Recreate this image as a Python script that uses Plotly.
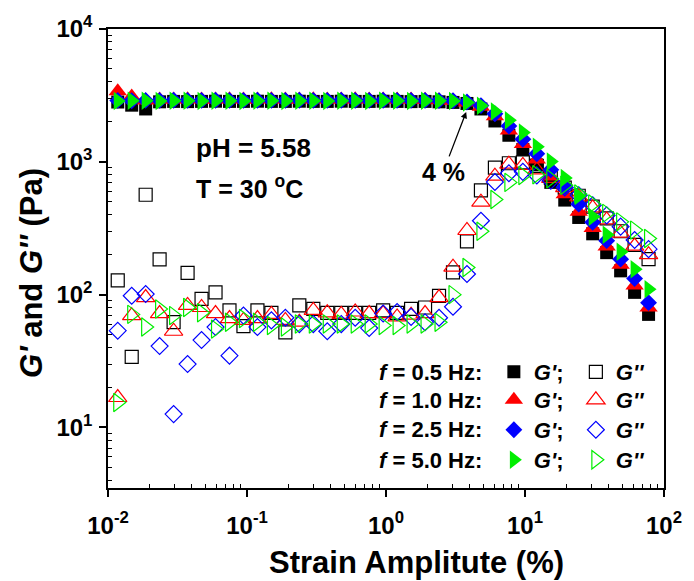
import plotly.graph_objects as go

# ---------------- data ----------------
strain = [0.01175, 0.01481, 0.01866, 0.02351, 0.02965, 0.03737, 0.04710, 0.05937,
          0.07482, 0.09430, 0.1189, 0.1498, 0.1888, 0.2379, 0.2999, 0.3780, 0.4764,
          0.6005, 0.7568, 0.9539, 1.202, 1.515, 1.910, 2.407, 3.034, 3.824, 4.819,
          6.074, 7.656, 9.650, 12.16, 15.33, 19.32, 24.35, 30.69, 38.69, 48.75,
          61.45, 77.45]

# G' (storage modulus, Pa)
gp_05 = [2820, 2670, 2500, 2830, 2850, 2840, 2850, 2860, 2850, 2850, 2860, 2850, 2850,
         2860, 2850, 2850, 2860, 2850, 2850, 2860, 2850, 2840, 2850, 2830, 2800, 2750,
         2500, 2030, 1585, 1240, 948, 700, 515, 381, 287, 207, 151, 104, 71]
gp_10 = [3400, 3100, 2900, 2940, 2950, 2960, 2950, 2950, 2960, 2950, 2950, 2960, 2950,
         2950, 2960, 2950, 2950, 2960, 2950, 2950, 2950, 2940, 2930, 2910, 2880, 2800,
         2600, 2200, 1720, 1360, 1040, 775, 570, 420, 318, 230, 168, 117, 80]
gp_25 = [2900, 2880, 2900, 2900, 2910, 2900, 2900, 2910, 2900, 2900, 2910, 2900, 2900,
         2910, 2900, 2900, 2910, 2900, 2900, 2910, 2900, 2900, 2900, 2890, 2880, 2820,
         2650, 2300, 1860, 1480, 1150, 870, 650, 480, 350, 255, 185, 132, 87]
gp_50 = [2870, 2880, 2880, 2870, 2880, 2880, 2870, 2880, 2880, 2870, 2880, 2880, 2870,
         2880, 2880, 2870, 2880, 2880, 2870, 2880, 2880, 2870, 2880, 2880, 2870, 2800,
         2640, 2390, 2055, 1660, 1300, 1005, 755, 552, 385, 282, 210, 155, 110]

# G'' (loss modulus, Pa)
gpp_05 = [128, 34, 565, 184, 62, 146, 93, 104, 76, 58, 76, 73, 52, 83, 78, 73, 73, 73,
          73, 76, 73, 78, 80, 98, 147, 252, 610, 904, 975, 990, 930, 760, 640, 555, 460,
          375, 300, 237, 185]
gpp_10 = [16.8, 69.5, 95, 72, 53, 83, 80, 72, 66, 64, 66, 71, 64, 62, 76, 73, 71, 74,
          72, 72, 68, 70, 72, 95, 161, 304, 497, 780, 960, 940, 870, 750, 640, 545, 450,
          365, 290, 232, 200]
gpp_25 = [53.5, 98, 101, 41, 12.6, 30, 45.5, 57, 34.7, 69.5, 57, 64, 67, 60, 60, 53, 60,
          67, 56, 72, 74, 68, 62, 67, 81, 143, 360, 705, 820, 840, 790, 720, 640, 560,
          470, 395, 325, 258, 220]
gpp_50 = [15.4, 71, 57, 78, 69.5, 80, 73, 55, 62, 66, 62, 58.5, 57, 60, 60, 60, 60, 60,
          60, 58.5, 58.5, 60, 60, 62, 100, 160, 300, 520, 700, 790, 800, 745, 665, 572,
          482, 409, 353, 306, 265]

freq_labels = ["0.5", "1.0", "2.5", "5.0"]
x_tickvals = [0.01, 0.1, 1, 10, 100]
x_ticktext = ["10<sup>-2</sup>", "10<sup>-1</sup>", "10<sup>0</sup>", "10<sup>1</sup>", "10<sup>2</sup>"]
y_tickvals = [10, 100, 1000, 10000]
y_ticktext = ["10<sup>1</sup>", "10<sup>2</sup>", "10<sup>3</sup>", "10<sup>4</sup>"]

# ---------------- styling ----------------
FONT = "Liberation Sans, Arial, sans-serif"
colors = ["#000000", "#ff0000", "#0000ff", "#00ee00"]
fill_sym = ["square", "triangle-up", "diamond", "triangle-right"]
open_sym = ["square-open", "triangle-up-open", "diamond-open", "triangle-right-open"]
sizes = [13, 16, 13, 16]
legends = ["legend", "legend2", "legend3", "legend4"]

gp_all = [gp_05, gp_10, gp_25, gp_50]
gpp_all = [gpp_05, gpp_10, gpp_25, gpp_50]

fig = go.Figure()
for i in range(4):
    fig.add_trace(go.Scatter(
        x=strain, y=gp_all[i], mode="markers", name="<i>G'</i>;",
        legend=legends[i],
        marker=dict(symbol=fill_sym[i], size=sizes[i], color=colors[i],
                    line=dict(width=0))))
    fig.add_trace(go.Scatter(
        x=strain, y=gpp_all[i], mode="markers", name="<i>G''</i>",
        legend=legends[i],
        marker=dict(symbol=open_sym[i], size=sizes[i], color=colors[i],
                    line=dict(width=1.2, color=colors[i]))))

# minor tick positions
x_minor = [m * 10 ** e for e in range(-2, 2) for m in range(2, 10)]
y_minor = [m * 10 ** e for e in range(0, 4) for m in range(2, 10) if m * 10 ** e >= 3.5]

axis_common = dict(type="log", showgrid=False, zeroline=False,
                   linecolor="black", linewidth=1.5, showline=True, mirror=True,
                   tickcolor="black", tickwidth=1.5, ticklen=7, ticks="outside",
                   tickmode="array",
                   tickfont=dict(family=FONT, size=24, color="black", weight="bold"))

fig.update_layout(
    width=694, height=581,
    margin=dict(l=108, r=24, t=29, b=93),
    plot_bgcolor="white", paper_bgcolor="white",
    showlegend=True,
    xaxis=dict(axis_common, range=[-2, 2], tickvals=x_tickvals, ticktext=x_ticktext,
               ticklabelstandoff=8,
               minor=dict(tickmode="array", tickvals=x_minor, ticks="inside", ticklen=4,
                          tickwidth=1.2, tickcolor="black", showgrid=False)),
    yaxis=dict(axis_common, range=[0.544, 4], tickvals=y_tickvals, ticktext=y_ticktext,
               ticklabelstandoff=2,
               minor=dict(tickmode="array", tickvals=y_minor, ticks="inside", ticklen=4,
                          tickwidth=1.2, tickcolor="black", showgrid=False)),
    xaxis2=dict(type="log", range=[-2, 2], overlaying="x", side="top", anchor="y",
                showgrid=False, showline=False, zeroline=False, showticklabels=False,
                tickmode="array", tickvals=x_tickvals, ticks="inside", ticklen=7,
                tickwidth=1.5, tickcolor="black",
                minor=dict(tickmode="array", tickvals=x_minor, ticks="inside", ticklen=4,
                           tickwidth=1.2, tickcolor="black", showgrid=False)),
    yaxis2=dict(type="log", range=[0.544, 4], overlaying="y", side="right", anchor="x",
                showgrid=False, showline=False, zeroline=False, showticklabels=False,
                tickmode="array", tickvals=y_tickvals, ticks="inside", ticklen=7,
                tickwidth=1.5, tickcolor="black",
                minor=dict(tickmode="array", tickvals=y_minor, ticks="inside", ticklen=4,
                           tickwidth=1.2, tickcolor="black", showgrid=False)),
)

# axis titles (placed as in the reference)
fig.add_annotation(xref="paper", yref="paper", x=0.555, y=-0.163, xanchor="center",
                   yanchor="middle", showarrow=False, text="Strain Amplitute (%)",
                   font=dict(family=FONT, size=31, color="black", weight="bold"))
fig.add_annotation(xref="paper", yref="paper", x=-0.139, y=0.468, xanchor="center",
                   yanchor="middle", showarrow=False, textangle=-90,
                   text="<i>G'</i> and <i>G''</i> (Pa)",
                   font=dict(family=FONT, size=31, color="black", weight="bold"))

# legends: one row per frequency
row_y = [0.2527, 0.1917, 0.1264, 0.061]
for i in range(4):
    fig.update_layout({legends[i]: dict(
        orientation="h", x=0.694, y=row_y[i], xanchor="left", yanchor="middle",
        bgcolor="rgba(0,0,0,0)", borderwidth=0, entrywidth=37, entrywidthmode="pixels",
        itemclick=False, itemdoubleclick=False,
        font=dict(family=FONT, size=22, color="black", weight="bold"))})
    fig.add_annotation(xref="paper", yref="paper", x=0.676, y=row_y[i],
                       xanchor="right", yanchor="middle", showarrow=False,
                       text="<i>f</i> = %s Hz:" % freq_labels[i],
                       font=dict(family=FONT, size=22, color="black", weight="bold"))

# text annotations
fig.add_annotation(xref="paper", yref="paper", x=0.155, y=0.741, xanchor="left",
                   yanchor="middle", showarrow=False, text="pH = 5.58",
                   font=dict(family=FONT, size=26, color="black", weight="bold"))
fig.add_annotation(xref="paper", yref="paper", x=0.155, y=0.656, xanchor="left",
                   yanchor="middle", showarrow=False, text="T = 30 <sup>o</sup>C",
                   font=dict(family=FONT, size=25, color="black", weight="bold"))
fig.add_annotation(xref="x", yref="y", x=0.577, y=3.376, ax=-23, ay=60,
                   showarrow=True, arrowhead=2, arrowsize=1, arrowwidth=1.3,
                   arrowcolor="black", text="4 %",
                   font=dict(family=FONT, size=25, color="black", weight="bold"))

fig.write_html("out.html")
